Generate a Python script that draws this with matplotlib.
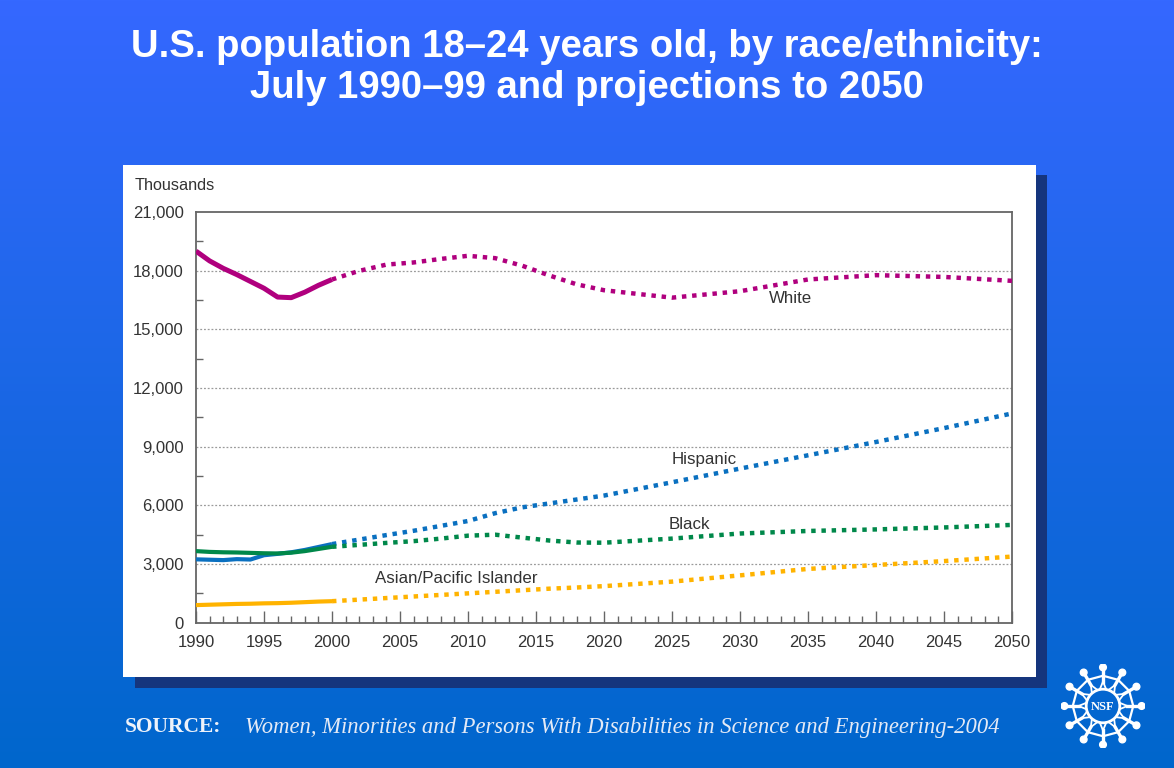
import numpy as np
import matplotlib
matplotlib.use("Agg")
import matplotlib.pyplot as plt
from matplotlib.patches import Rectangle, Circle
from matplotlib.ticker import FixedLocator, FuncFormatter

# ---------------- data (thousands) ----------------
years_hist = [1990, 1991, 1992, 1993, 1994, 1995, 1996, 1997, 1998, 1999, 2000]
white_hist = [19000, 18500, 18120, 17800, 17450, 17100, 16650, 16620, 16900, 17250, 17550]
hispanic_hist = [3240, 3220, 3200, 3250, 3230, 3450, 3520, 3600, 3720, 3870, 4020]
black_hist = [3660, 3620, 3600, 3590, 3570, 3550, 3540, 3580, 3660, 3770, 3880]
asian_hist = [900, 920, 940, 960, 970, 990, 1000, 1020, 1050, 1080, 1100]

years_proj = [2000, 2002, 2004, 2006, 2008, 2010, 2012, 2014, 2016, 2018, 2020,
              2025, 2030, 2035, 2040, 2045, 2050]
white_proj = [17550, 17990, 18310, 18420, 18600, 18760, 18640, 18250, 17750, 17300, 17000,
              16620, 16950, 17550, 17770, 17680, 17480]
hispanic_proj = [4020, 4250, 4480, 4700, 4950, 5200, 5600, 5900, 6100, 6300, 6500,
                 7180, 7880, 8560, 9240, 9950, 10700]
black_proj = [3880, 3980, 4080, 4170, 4300, 4450, 4500, 4350, 4200, 4100, 4090,
              4300, 4560, 4690, 4770, 4870, 5000]
asian_proj = [1100, 1180, 1260, 1340, 1420, 1500, 1580, 1660, 1740, 1800, 1870,
              2100, 2420, 2750, 2950, 3150, 3380]

y_ticks = [0, 3000, 6000, 9000, 12000, 15000, 18000, 21000]
x_ticks = [1990, 1995, 2000, 2005, 2010, 2015, 2020, 2025, 2030, 2035, 2040, 2045, 2050]

title_lines = ["U.S. population 18\u201324 years old, by race/ethnicity:",
               "July 1990\u201399 and projections to 2050"]

# ---------------- figure ----------------
W, H = 1174, 768
fig = plt.figure(figsize=(W / 100, H / 100), dpi=100)

def fx(px):
    return px / W

def fy(py):
    return 1 - py / H

# background gradient
bg = fig.add_axes([0, 0, 1, 1], zorder=-10)
top = np.array([0x35, 0x68, 0xFF]) / 255
bot = np.array([0x00, 0x66, 0xCC]) / 255
t = np.linspace(0, 1, 256)[:, None]
grad = top[None, :] * (1 - t) + bot[None, :] * t
bg.imshow(grad[:, None, :], aspect="auto", extent=[0, 1, 0, 1])
bg.set_axis_off()

# shadow + white panel
fig.patches.append(Rectangle((fx(135), fy(688)), fx(1047) - fx(135), fy(175) - fy(688),
                             transform=fig.transFigure, facecolor="#15357D",
                             edgecolor="none", zorder=-5))
fig.patches.append(Rectangle((fx(123), fy(677)), fx(1036) - fx(123), fy(165) - fy(677),
                             transform=fig.transFigure, facecolor="white",
                             edgecolor="none", zorder=-4))

# title
fig.text(0.5, fy(47), title_lines[0], ha="center", va="center", color="white",
         fontsize=27.5, fontweight="bold", family="Liberation Sans")
fig.text(0.5, fy(88), title_lines[1], ha="center", va="center", color="white",
         fontsize=27.5, fontweight="bold", family="Liberation Sans")

# main axes
left, right, ytop, ybot = 196, 1012, 212, 622.7
ax = fig.add_axes([fx(left), fy(ybot), fx(right) - fx(left), fy(ytop) - fy(ybot)])
ax.set_xlim(1990, 2050)
ax.set_ylim(0, 21000)
ax.patch.set_alpha(0)

for s in ax.spines.values():
    s.set_color("#666666")
    s.set_linewidth(1.3)

ax.yaxis.set_major_locator(FixedLocator(y_ticks))
ax.yaxis.set_minor_locator(FixedLocator(list(np.arange(1500, 21000, 3000))))
ax.yaxis.set_major_formatter(FuncFormatter(lambda v, p: f"{int(v):,}"))
ax.xaxis.set_major_locator(FixedLocator(x_ticks))
ax.xaxis.set_minor_locator(FixedLocator(list(range(1990, 2051))))
ax.tick_params(axis="y", which="major", length=0, pad=9, labelsize=12, labelcolor="#333333")
ax.tick_params(axis="y", which="minor", direction="in", length=5, width=1, color="#666666")
ax.tick_params(axis="x", which="major", direction="in", length=9, width=1, color="#666666",
               pad=9, labelsize=12, labelcolor="#333333")
ax.tick_params(axis="x", which="minor", direction="in", length=5, width=1, color="#666666")
for lab in ax.get_xticklabels() + ax.get_yticklabels():
    lab.set_family("Liberation Sans")

for yv in y_ticks[1:-1]:
    ax.axhline(yv, color="#9a9a9a", linewidth=0.9, linestyle=(0, (1.5, 1.5)), zorder=1)

series = [
    (asian_hist, asian_proj, "#FFB300", 3.0),
    (hispanic_hist, hispanic_proj, "#0A70C0", 3.0),
    (black_hist, black_proj, "#00884A", 3.0),
    (white_hist, white_proj, "#B0007E", 3.6),
]
for hist, proj, col, lw in series:
    ax.plot(years_hist, hist, color=col, linewidth=lw, solid_capstyle="butt",
            solid_joinstyle="round", zorder=3)
    ax.plot(years_proj, proj, color=col, linewidth=3.2, linestyle=(0, (1.0, 1.3)),
            dash_capstyle="butt", zorder=3)

lab_kw = dict(fontsize=12.2, color="#333333", family="Liberation Sans", ha="center", va="center")
ax.text(2033.75, 16600, "White", **lab_kw)
ax.text(2027.35, 8320, "Hispanic", **lab_kw)
ax.text(2026.3, 5045, "Black", **lab_kw)
ax.text(2009.1, 2280, "Asian/Pacific Islander", **lab_kw)

fig.text(fx(135), fy(186), "Thousands", fontsize=11.7, color="#333333",
         family="Liberation Sans", ha="left", va="center")

# source
fig.text(fx(125), fy(727), "SOURCE:", fontsize=15.5, fontweight="bold", color="#EEF2FA",
         family="Liberation Serif", ha="left", va="center")
fig.text(fx(245), fy(727),
         "Women, Minorities and Persons With Disabilities in Science and Engineering-2004",
         fontsize=16.3, style="italic", color="#E4EAF6", family="Liberation Serif",
         ha="left", va="center")

# NSF logo (simplified)
cx, cy, R = 1103, 706, 42
lg = fig.add_axes([fx(cx - R), fy(cy + R), 2 * R / W, 2 * R / H])
lg.set_xlim(-1, 1)
lg.set_ylim(-1, 1)
lg.set_axis_off()
lg.patch.set_alpha(0)
lg.add_patch(Circle((0, 0), 0.40, fill=False, edgecolor="white", linewidth=2))
n = 12
ang = np.linspace(0, 2 * np.pi, n, endpoint=False) + np.pi / 2
sh = np.array([[0.72 * np.cos(a), 0.72 * np.sin(a)] for a in ang])
ring = np.vstack([sh, sh[:1]])
lg.plot(ring[:, 0], ring[:, 1], color="white", linewidth=1.6)
for a in ang:
    ca, sa = np.cos(a), np.sin(a)
    lg.plot([0.58 * ca, 0.85 * ca], [0.58 * sa, 0.85 * sa], color="white", linewidth=2.4)
    lg.add_patch(Circle((0.92 * ca, 0.92 * sa), 0.08, color="white"))
    for d in (-0.18, 0.18):
        lg.plot([0.58 * ca, 0.41 * np.cos(a + d)], [0.58 * sa, 0.41 * np.sin(a + d)],
                color="white", linewidth=1.3)
lg.text(0, -0.02, "NSF", ha="center", va="center", color="white", fontsize=9,
        fontweight="bold", family="Liberation Serif")

fig.savefig("out.png", dpi=100)
